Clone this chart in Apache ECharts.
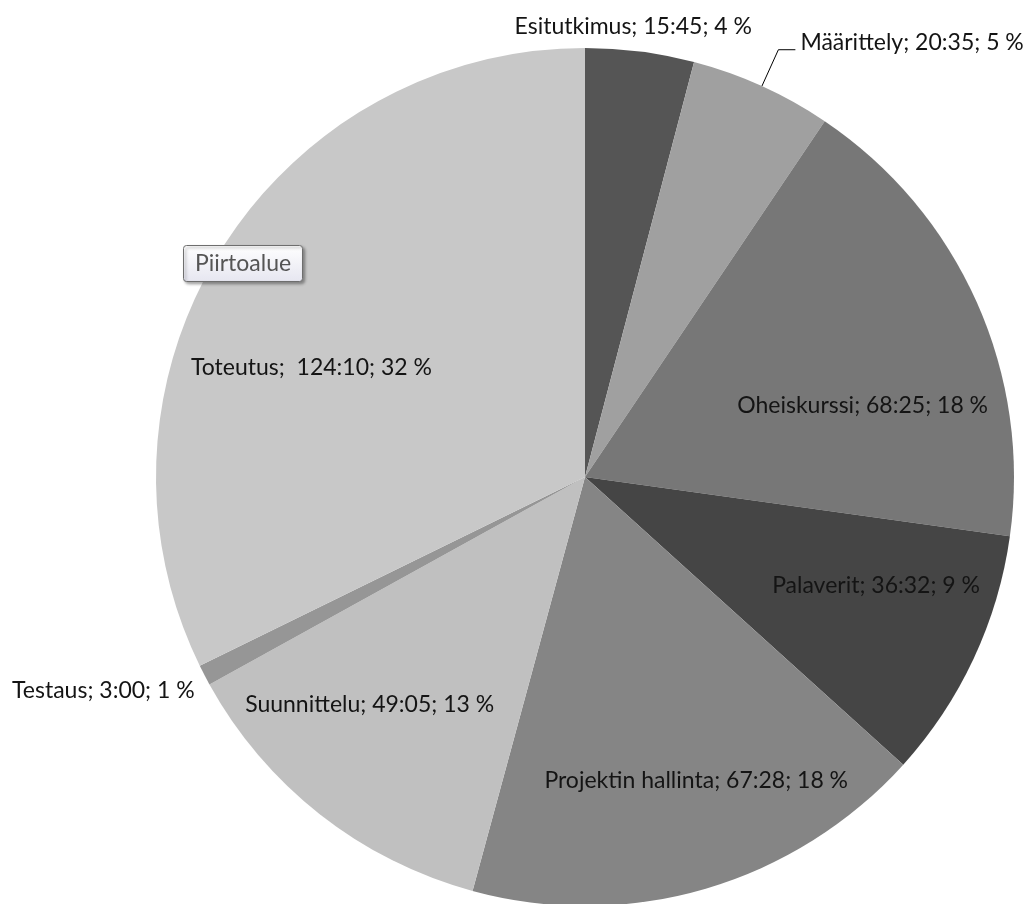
<!DOCTYPE html>
<html>
<head>
<meta charset="utf-8">
<script src="https://cdn.jsdelivr.net/npm/echarts@6/dist/echarts.min.js"></script>
<style>
html,body{margin:0;padding:0;background:#fff;}
#chart{width:1031px;height:904px;}
</style>
</head>
<body>
<div id="chart"></div>
<script>
// Data
const categories = ['Esitutkimus', 'Määrittely', 'Oheiskurssi', 'Palaverit', 'Projektin hallinta', 'Suunnittelu', 'Testaus', 'Toteutus'];
const durations = ['15:45', '20:35', '68:25', '36:32', '67:28', '49:05', '3:00', ' 124:10'];
const percents = [4, 5, 18, 9, 18, 13, 1, 32];

// Styles
const colors = ['#555555', '#a0a0a0', '#777777', '#454545', '#858585', '#c0c0c0', '#969696', '#c8c8c8'];
const outsideLabels = [0, 1, 6];
const labelShift = [[-134, 3], [0, -7], [79, 17], [94, 17], [50, 95], [-81, 57], [4, 11], [-89, 6]];
const FONT = 'Lato';
const FS = 23;

function toMinutes(s) {
  const p = s.trim().split(':');
  return parseInt(p[0], 10) * 60 + parseInt(p[1], 10);
}

const seriesData = categories.map(function (name, i) {
  const item = {
    name: name,
    value: toMinutes(durations[i]),
    itemStyle: { color: colors[i] }
  };
  if (outsideLabels.indexOf(i) >= 0) {
    item.label = { position: 'outside' };
    if (i === 1) {
      item.labelLine = { show: true, length: 40, length2: 17, lineStyle: { color: '#000', width: 1 } };
    } else if (i === 0) {
      item.labelLine = { show: false, length: 28, length2: 0 };
    } else {
      item.labelLine = { show: false, length: 10, length2: 0 };
    }
  }
  return item;
});

const chart = echarts.init(document.getElementById('chart'));
chart.setOption({
  animation: false,
  backgroundColor: '#ffffff',
  series: [{
    type: 'pie',
    center: [585, 477],
    radius: 429,
    startAngle: 90,
    clockwise: true,
    avoidLabelOverlap: false,
    itemStyle: { borderWidth: 0 },
    emphasis: { disabled: true },
    label: {
      show: true,
      position: 'inside',
      color: '#141414',
      fontFamily: FONT,
      fontSize: FS,
      width: 400,
      distanceToLabelLine: 5,
      formatter: function (p) {
        const i = p.dataIndex;
        return categories[i] + '; ' + durations[i] + '; ' + percents[i] + ' %';
      }
    },
    labelLine: { show: false },
    labelLayout: function (params) {
      const s = labelShift[params.dataIndex];
      if (!s || (s[0] === 0 && s[1] === 0)) return {};
      const out = { dx: s[0], dy: s[1] };
      if (params.labelLinePoints) out.labelLinePoints = params.labelLinePoints;
      return out;
    },
    data: seriesData
  }],
  graphic: [{
    type: 'group',
    left: 183,
    top: 245,
    z: 100,
    children: [{
      type: 'rect',
      z: 100,
      shape: { x: 0, y: 0, width: 119, height: 36, r: 3 },
      style: {
        fill: new echarts.graphic.LinearGradient(0, 0, 0, 1, [
          { offset: 0, color: '#ffffff' },
          { offset: 1, color: '#e6e6f0' }
        ]),
        stroke: '#6e6e6e',
        lineWidth: 1,
        shadowBlur: 3,
        shadowOffsetX: 2,
        shadowOffsetY: 2,
        shadowColor: 'rgba(0,0,0,0.35)'
      }
    }, {
      type: 'text',
      z: 101,
      x: 59.5,
      y: 18,
      style: {
        text: 'Piirtoalue',
        fill: '#555555',
        fontFamily: FONT,
        fontSize: FS,
        align: 'center',
        verticalAlign: 'middle'
      }
    }]
  }]
});
</script>
</body>
</html>
